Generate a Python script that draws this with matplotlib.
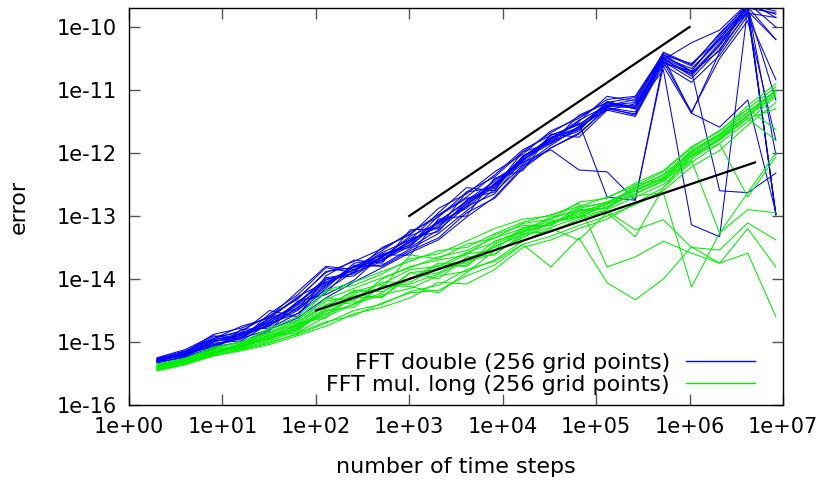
import matplotlib
matplotlib.use('Agg')
import matplotlib.pyplot as plt
from matplotlib.lines import Line2D
import numpy as np

plt.rcParams['font.family'] = ['DejaVu Sans']
plt.rcParams['font.size'] = 15

# number of time steps (2^1 ... 2^23)
steps = [2, 4, 8, 16, 32, 64, 128, 256, 512, 1024, 2048, 4096, 8192, 16384,
         32768, 65536, 131072, 262144, 524288, 1048576, 2097152, 4194304, 8388608]

# log10(error), one row per run: FFT double
log_err_double = [
    [-15.25, -15.12, -14.90, -14.95, -14.55, -14.25, -13.82, -13.90, -13.50, -13.30, -12.88, -12.65, -12.30, -12.02, -11.65, -11.45, -11.15, -11.10, -10.42, -10.62, -10.10, -9.65, -9.80],
    [-15.33, -15.24, -15.12, -14.80, -14.78, -14.55, -14.22, -13.78, -13.80, -13.55, -13.35, -12.95, -12.72, -12.25, -11.92, -11.68, -11.30, -11.38, -10.55, -10.82, -10.35, -9.78, -9.85],
    [-15.30, -15.15, -14.92, -14.85, -14.50, -14.60, -13.95, -13.70, -13.75, -13.22, -13.20, -12.62, -12.55, -11.98, -11.85, -11.40, -11.20, -11.30, -10.45, -10.70, -10.15, -9.68, -10.20],
    [-15.31, -15.25, -15.08, -15.00, -14.82, -14.35, -14.25, -14.02, -13.62, -13.62, -13.05, -13.00, -12.40, -12.28, -11.70, -11.75, -11.32, -11.42, -10.60, -10.88, -10.45, -9.82, -10.84],
    [-15.27, -15.16, -14.88, -14.78, -14.60, -14.20, -13.80, -13.85, -13.58, -13.38, -12.95, -12.55, -12.60, -12.05, -11.80, -11.50, -11.10, -11.18, -10.40, -10.60, -10.12, -9.64, -9.75],
    [-15.29, -15.20, -15.05, -14.92, -14.72, -14.50, -14.12, -13.80, -13.70, -13.48, -13.10, -12.88, -12.48, -12.15, -11.95, -12.27, -12.30, -12.75, -10.55, -10.75, -10.30, -9.70, -11.16],
    [-15.32, -15.18, -14.98, -14.95, -14.65, -14.40, -14.00, -13.95, -13.65, -13.35, -13.25, -12.75, -12.45, -12.12, -11.78, -11.52, -12.70, -12.75, -10.62, -11.37, -10.40, -9.75, -12.98],
    [-15.26, -15.14, -14.95, -14.75, -14.62, -14.30, -13.90, -13.72, -13.52, -13.28, -12.98, -12.70, -12.35, -11.95, -11.72, -11.55, -11.25, -11.15, -10.48, -11.37, -11.59, -11.16, -12.95],
    [-15.29, -15.22, -15.10, -14.88, -14.75, -14.45, -14.18, -13.88, -13.60, -13.50, -13.22, -12.85, -12.65, -12.10, -11.85, -11.62, -11.22, -11.28, -10.68, -13.14, -13.33, -9.70, -12.98],
    [-15.31, -15.17, -14.96, -14.90, -14.62, -14.28, -14.05, -13.90, -13.72, -13.40, -13.15, -12.82, -12.50, -12.18, -11.75, -11.60, -11.28, -11.35, -10.50, -10.70, -12.60, -12.63, -12.32],
    [-15.28, -15.19, -15.02, -14.98, -14.70, -14.55, -14.15, -13.75, -13.68, -13.45, -13.00, -12.72, -12.62, -12.20, -11.88, -11.58, -11.32, -11.22, -10.52, -10.25, -10.05, -9.62, -10.00],
    [-15.30, -15.21, -15.06, -14.94, -14.80, -14.62, -14.30, -14.05, -13.82, -13.58, -13.38, -13.02, -12.70, -12.22, -11.92, -11.70, -11.28, -11.40, -10.55, -11.35, -10.50, -9.90, -11.80],
    [-15.29, -15.15, -14.95, -14.82, -14.58, -14.32, -13.88, -13.82, -13.55, -13.25, -13.02, -12.62, -12.38, -11.98, -11.68, -11.42, -11.20, -11.12, -10.45, -10.58, -10.20, -9.66, -12.03],
    [-15.33, -15.23, -15.00, -14.90, -14.68, -14.48, -14.10, -13.80, -13.78, -13.52, -13.28, -12.92, -12.58, -12.05, -11.82, -11.65, -11.18, -11.30, -10.50, -10.78, -10.28, -9.74, -12.98],
    [-15.30, -15.18, -15.08, -14.85, -14.74, -14.38, -13.98, -13.92, -13.64, -13.42, -13.08, -12.78, -12.52, -12.08, -11.78, -11.48, -11.25, -11.25, -10.48, -10.66, -10.22, -9.75, -10.20],
    [-15.27, -15.20, -15.00, -14.87, -14.66, -14.42, -14.08, -13.85, -13.66, -13.32, -13.12, -12.85, -12.42, -12.14, -11.72, -11.55, -11.24, -11.20, -10.44, -10.72, -10.38, -9.60, -9.85],
    [-15.31, -15.16, -15.04, -14.93, -14.62, -14.46, -14.02, -13.86, -13.70, -13.38, -13.18, -12.80, -12.55, -12.10, -11.82, -11.58, -11.20, -11.26, -10.58, -10.70, -10.18, -9.70, -9.78],
    [-15.28, -15.21, -14.97, -14.86, -14.70, -14.36, -14.06, -13.80, -13.62, -13.46, -13.10, -12.76, -12.50, -12.06, -11.76, -11.62, -11.26, -11.28, -10.52, -10.74, -10.26, -9.68, -12.98],
]

# log10(error), one row per run: FFT mul. long
log_err_long = [
    [-15.44, -15.33, -15.22, -15.12, -15.00, -14.88, -14.70, -14.50, -14.40, -14.20, -14.10, -13.85, -13.72, -13.45, -13.81, -13.35, -14.06, -14.33, -14.00, -13.49, -13.75, -13.59, -14.60],
    [-15.36, -15.26, -15.10, -15.00, -14.80, -14.65, -14.20, -14.10, -13.92, -13.68, -13.60, -13.40, -13.20, -13.05, -13.00, -12.80, -13.81, -13.65, -13.40, -13.59, -13.75, -13.20, -13.81],
    [-15.42, -15.30, -15.20, -15.02, -14.95, -14.70, -14.62, -14.25, -14.30, -13.90, -14.00, -13.65, -13.62, -13.28, -13.25, -13.05, -12.92, -13.22, -13.06, -13.50, -13.54, -13.11, -13.38],
    [-15.45, -15.34, -15.14, -15.10, -14.98, -14.82, -14.50, -14.45, -14.10, -14.12, -14.22, -13.90, -13.55, -13.35, -13.10, -13.02, -12.80, -12.68, -12.63, -14.13, -13.27, -12.90, -12.95],
    [-15.37, -15.28, -15.18, -15.04, -14.85, -14.72, -14.30, -14.35, -14.00, -13.80, -13.70, -13.62, -13.30, -13.15, -13.15, -12.85, -12.80, -12.55, -12.35, -11.98, -11.72, -11.35, -11.00],
    [-15.40, -15.32, -15.15, -15.08, -14.95, -14.80, -14.45, -14.18, -14.20, -14.00, -13.75, -13.75, -13.40, -13.25, -13.02, -12.92, -12.88, -12.50, -12.42, -11.95, -11.70, -11.30, -10.95],
    [-15.38, -15.29, -15.12, -15.06, -14.88, -14.75, -14.35, -14.28, -14.15, -13.62, -13.68, -13.45, -13.35, -13.12, -13.05, -12.78, -12.72, -12.48, -12.28, -11.90, -11.66, -11.25, -10.90],
    [-15.46, -15.36, -15.22, -15.14, -15.04, -14.90, -14.75, -14.55, -14.45, -14.30, -14.05, -14.08, -13.85, -13.50, -13.38, -13.20, -13.05, -12.80, -12.55, -12.05, -11.85, -11.50, -11.10],
    [-15.40, -15.31, -15.17, -15.03, -14.90, -14.74, -14.52, -14.32, -14.05, -14.05, -13.82, -13.78, -13.48, -13.30, -13.10, -13.00, -12.85, -12.65, -12.45, -12.10, -11.78, -11.45, -11.30],
    [-15.35, -15.26, -15.08, -15.00, -14.78, -14.60, -14.18, -14.05, -13.88, -13.72, -13.55, -13.50, -13.28, -13.10, -12.98, -12.85, -12.70, -12.52, -12.30, -11.92, -11.64, -11.30, -11.63],
    [-15.43, -15.33, -15.20, -15.10, -14.92, -14.85, -14.60, -14.40, -14.25, -14.15, -13.95, -13.88, -13.70, -13.40, -13.20, -13.38, -12.95, -13.33, -12.55, -12.15, -11.85, -12.70, -12.06],
    [-15.39, -15.28, -15.14, -15.07, -14.93, -14.78, -14.40, -14.38, -14.22, -13.90, -13.85, -13.60, -13.55, -13.18, -13.15, -12.90, -12.88, -12.60, -12.42, -12.02, -11.80, -11.45, -11.80],
    [-15.41, -15.30, -15.18, -15.05, -14.96, -14.76, -14.55, -14.40, -14.12, -14.08, -13.92, -13.72, -13.60, -13.32, -13.18, -13.02, -12.90, -12.70, -12.50, -12.12, -13.27, -12.63, -12.00],
    [-15.38, -15.31, -15.16, -15.02, -14.86, -14.68, -14.42, -14.20, -14.08, -13.85, -13.80, -13.58, -13.42, -13.22, -13.08, -12.98, -12.78, -12.60, -12.38, -12.00, -11.74, -11.40, -11.00],
    [-15.44, -15.35, -15.22, -15.12, -15.02, -14.86, -14.68, -14.58, -14.38, -14.22, -14.18, -13.95, -13.78, -13.45, -13.32, -13.15, -13.00, -12.82, -12.60, -12.22, -11.96, -11.56, -11.20],
    [-15.37, -15.27, -15.12, -15.00, -14.84, -14.66, -14.32, -14.15, -13.98, -13.82, -13.65, -13.55, -13.35, -13.20, -13.05, -12.88, -12.78, -12.56, -12.34, -11.98, -11.70, -11.36, -11.02],
    [-15.42, -15.29, -15.19, -15.08, -14.90, -14.80, -14.48, -14.30, -14.28, -13.98, -13.90, -13.68, -13.50, -13.26, -13.12, -12.95, -12.86, -12.64, -12.44, -12.06, -11.76, -11.42, -11.08],
    [-15.39, -15.32, -15.15, -15.06, -14.94, -14.72, -14.58, -14.22, -14.15, -14.00, -13.78, -13.80, -13.45, -13.24, -13.14, -12.92, -12.82, -12.58, -12.40, -12.04, -11.78, -11.40, -11.05],
]

# reference slopes: end points of the two black guide lines
slope1_x = [1e3, 1e6]
slope1_y = [1e-13, 1e-10]
slope_half_x = [1e2, 5e6]
slope_half_y = [3.16e-15, 7.07e-13]

x_ticks = [1e0, 1e1, 1e2, 1e3, 1e4, 1e5, 1e6, 1e7]
x_labels = ['1e+00', '1e+01', '1e+02', '1e+03', '1e+04', '1e+05', '1e+06', '1e+07']
y_ticks = [1e-16, 1e-15, 1e-14, 1e-13, 1e-12, 1e-11, 1e-10]
y_labels = ['1e-16', '1e-15', '1e-14', '1e-13', '1e-12', '1e-11', '1e-10']

BLUE = '#0000ff'
GREEN = '#00ee00'


def plot_runs(ax, runs, color):
    for run in runs:
        ax.plot(steps, 10.0 ** np.array(run), color=color, lw=0.75, zorder=2)


fig = plt.figure(figsize=(8.23, 4.82), dpi=100)
ax = fig.add_axes([0.1567, 0.1598, 0.7947, 0.8236])

plot_runs(ax, log_err_double, BLUE)
plot_runs(ax, log_err_long, GREEN)
ax.plot(slope1_x, slope1_y, color='black', lw=1.6, zorder=3)
ax.plot(slope_half_x, slope_half_y, color='black', lw=1.6, zorder=3)

ax.set_xscale('log')
ax.set_yscale('log')
ax.set_xlim(1, 1e7)
ax.set_ylim(1e-16, 2e-10)
ax.set_xticks(x_ticks)
ax.set_xticklabels(x_labels)
ax.set_yticks(y_ticks)
ax.set_yticklabels(y_labels)
ax.minorticks_off()
ax.tick_params(direction='in', length=8, width=1, color='#555555',
               top=True, right=True, pad=9)
for sp in ax.spines.values():
    sp.set_linewidth(1.0)

ax.set_xlabel('number of time steps', fontsize=16, labelpad=14)
ax.set_ylabel('error', fontsize=16, labelpad=20)

handles = [Line2D([], [], color=BLUE, lw=1.0),
           Line2D([], [], color=GREEN, lw=1.0)]
labels = ['FFT double (256 grid points)', 'FFT mul. long (256 grid points)']
ax.legend(handles, labels, loc='lower right', bbox_to_anchor=(0.957, 0.025),
          frameon=False, markerfirst=False, handlelength=3.1, handletextpad=0.72,
          labelspacing=0.08, borderaxespad=0, borderpad=0, fontsize=16)

fig.savefig('out.png', dpi=100)
plt.close(fig)
